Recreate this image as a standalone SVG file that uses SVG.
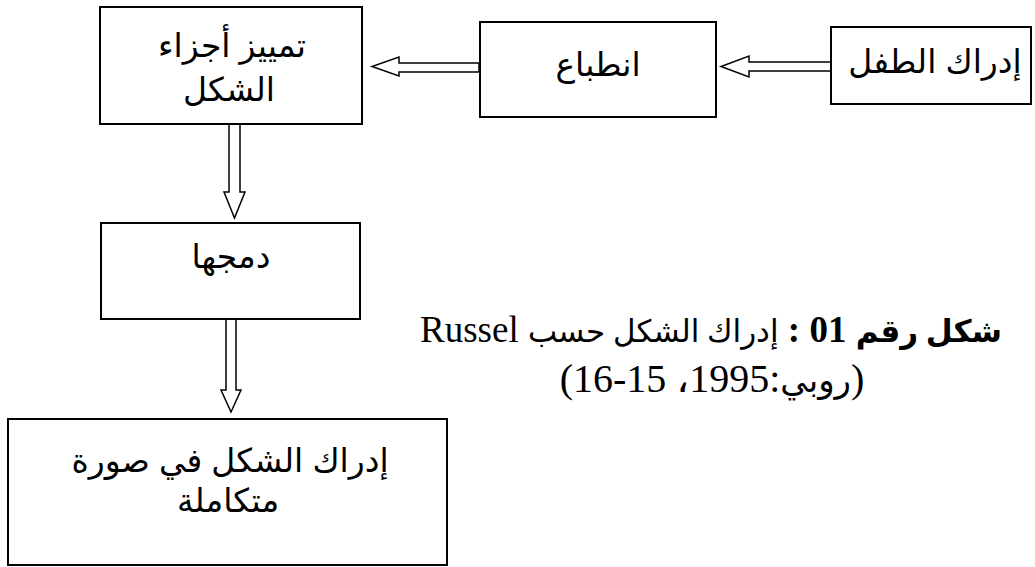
<svg xmlns="http://www.w3.org/2000/svg" width="1035" height="567" viewBox="0 0 1035 567">
<style>
.box{fill:#fff;stroke:#000;stroke-width:2}
.arr{fill:#fff;stroke:#000;stroke-width:1.5;stroke-linejoin:miter}
.t{font-family:"Liberation Sans","DejaVu Sans",sans-serif;font-size:33px;fill:#000;text-anchor:middle;direction:rtl}
.cap{font-family:"Liberation Serif","DejaVu Sans",serif;font-size:37px;fill:#000;text-anchor:middle;direction:rtl}
.ar{font-size:31px}
.cap2{font-size:40px}
.ar2{font-size:34px}
</style>
<rect width="1035" height="567" fill="#fff"/>
<g id="connectors">
<polygon class="arr" points="831,62 749,62 749,56 721,66.5 749,77 749,71 831,71"/>
<polygon class="arr" points="479,63 399,63 399,57 372,66.5 399,76 399,72 479,72"/>
<polygon class="arr" points="229,124 229,192 224,192 234.5,218 245,192 240,192 240,124"/>
<polygon class="arr" points="226,319 226,390 221,390 231,412 241,390 236,390 236,319"/>
</g>
<g id="node-tamyiz">
<rect class="box" x="100" y="7" width="262" height="117"/>
<text class="t" x="232" y="57">تمييز أجزاء</text>
<text class="t" x="229" y="101">الشكل</text>
</g>
<g id="node-intiba">
<rect class="box" x="480" y="22" width="236" height="95"/>
<text class="t" x="598" y="76">انطباع</text>
</g>
<g id="node-idrak-tifl">
<rect class="box" x="831" y="27" width="200" height="77"/>
<text class="t" x="935" y="73">إدراك الطفل</text>
</g>
<g id="node-damj">
<rect class="box" x="101" y="223" width="259" height="96"/>
<text class="t" x="231" y="268">دمجها</text>
</g>
<g id="node-idrak-shakl">
<rect class="box" x="8" y="419" width="439" height="146"/>
<text class="t" x="230" y="472">إدراك الشكل في صورة</text>
<text class="t" x="228" y="512">متكاملة</text>
</g>
<g id="caption">
<text class="cap" x="711" y="342"><tspan font-weight="bold"><tspan class="ar">شكل رقم</tspan> 01 :</tspan> <tspan class="ar">إدراك الشكل حسب</tspan>  Russel</text>
<text class="cap cap2" x="712" y="392">(<tspan class="ar2">روبي</tspan>:1995، 15-16)</text>
</g>
</svg>
